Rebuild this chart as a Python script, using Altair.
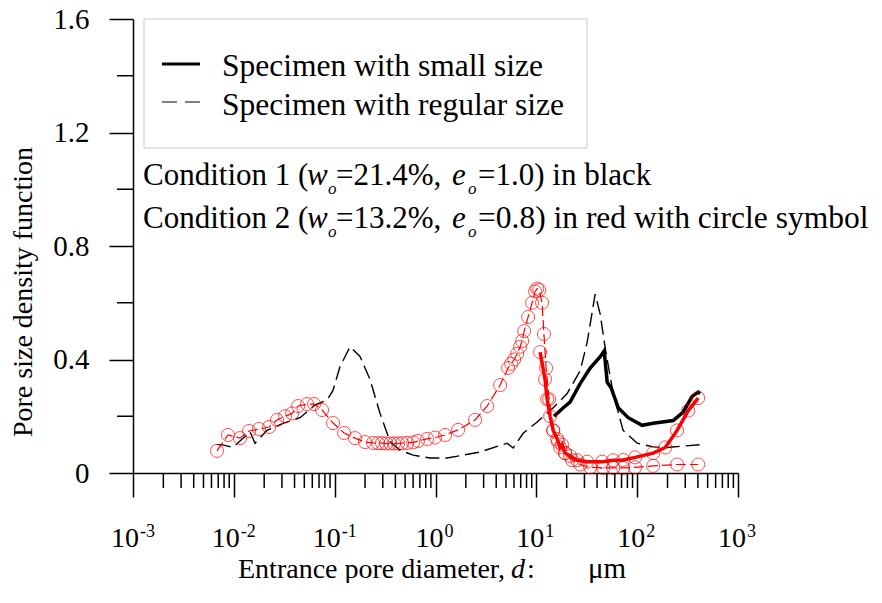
import altair as alt
import pandas as pd

SERIF = "Liberation Serif"

# Condition 1, specimen with regular size (black dashed)
d_reg1 = [0.0068, 0.0076, 0.0098, 0.0145, 0.0162, 0.0213, 0.0308, 0.0454, 0.064, 0.084,
          0.096, 0.113, 0.142, 0.179, 0.224, 0.282, 0.355, 0.446, 0.60, 0.88,
          1.30, 1.88, 2.77, 5.13, 5.89, 7.40, 10.2, 14.7, 20.2, 27.2,
          31.9, 38.3, 43.0, 48.2, 57.8, 72.6, 100, 144, 199, 422]
v_reg1 = [0.10, 0.10, 0.09, 0.145, 0.105, 0.15, 0.175, 0.195, 0.24, 0.257,
          0.29, 0.375, 0.445, 0.41, 0.33, 0.21, 0.11, 0.08, 0.063, 0.053,
          0.053, 0.063, 0.074, 0.105, 0.088, 0.14, 0.18, 0.23, 0.28, 0.36,
          0.46, 0.63, 0.56, 0.44, 0.28, 0.15, 0.105, 0.092, 0.09, 0.10]

# Condition 1, specimen with small size (black solid)
d_small1 = [15.0, 18.5, 21.6, 27.2, 34.2, 43.0, 47.1, 50.4, 55.2, 64.9,
            81.5, 112, 144, 228, 286, 351, 403, 422]
v_small1 = [0.20, 0.23, 0.25, 0.315, 0.37, 0.41, 0.43, 0.32, 0.30, 0.23,
            0.195, 0.168, 0.175, 0.185, 0.215, 0.27, 0.285, 0.28]

# Condition 2, specimen with regular size (red dashed, circles)
d_reg2 = [0.00681, 0.00875, 0.01152, 0.01416, 0.01778, 0.02234, 0.02683, 0.0322, 0.0378, 0.0434,
          0.0532, 0.0625, 0.0750, 0.0964, 0.124, 0.159, 0.200, 0.240, 0.270, 0.295,
          0.324, 0.355, 0.388, 0.426, 0.467, 0.522, 0.600, 0.671, 0.826, 0.991,
          1.245, 1.675, 2.47, 3.25, 4.38, 5.25, 5.62, 6.03, 6.46, 6.91,
          7.23, 7.57, 8.29, 9.08, 9.73, 10.2, 10.7, 11.4, 11.9, 12.5,
          13.4, 14.7, 16.4, 19.3, 22.6, 27.2, 34.2, 46.0, 57.8, 72.6,
          95.5, 144, 249, 403]
v_reg2 = [0.078, 0.134, 0.123, 0.148, 0.155, 0.162, 0.187, 0.20, 0.21, 0.236,
          0.243, 0.243, 0.222, 0.176, 0.141, 0.123, 0.109, 0.106, 0.105, 0.105,
          0.104, 0.104, 0.104, 0.104, 0.105, 0.106, 0.108, 0.113, 0.12, 0.125,
          0.134, 0.152, 0.187, 0.236, 0.31, 0.37, 0.385, 0.40, 0.42, 0.445,
          0.465, 0.50, 0.55, 0.60, 0.64, 0.65, 0.645, 0.60, 0.49, 0.37,
          0.26, 0.15, 0.11, 0.07, 0.045, 0.03, 0.02, 0.018, 0.018, 0.018,
          0.02, 0.025, 0.03, 0.03]

# Condition 2, specimen with small size (red solid, circles)
d_small2 = [10.9, 12.2, 12.8, 13.7, 14.7, 16.1, 17.2, 18.0, 19.3, 21.6,
            25.4, 31.9, 45.0, 57.8, 72.6, 95.5, 144, 190, 249, 321, 403]
v_small2 = [0.426, 0.33, 0.26, 0.20, 0.15, 0.12, 0.09, 0.10, 0.07, 0.06,
            0.045, 0.04, 0.04, 0.045, 0.046, 0.055, 0.07, 0.09, 0.15, 0.22, 0.264]

decades = [0.001, 0.01, 0.1, 1, 10, 100, 1000]
exponents = ["-3", "-2", "-1", "0", "1", "2", "3"]
minor_x = [m * 10.0 ** k for k in range(-3, 3) for m in range(2, 10)]
major_y = [0, 0.4, 0.8, 1.2, 1.6]
minor_y = [0.2, 0.6, 1.0, 1.4]

W, H = 605, 454

x_scale = alt.Scale(type="log", domain=[0.001, 1000], nice=False)
y_scale = alt.Scale(domain=[0, 1.6], nice=False, zero=True)
x_axis = alt.Axis(values=decades, tickSize=24, labels=False, title=None, grid=False,
                  domainColor="black", tickColor="black", domainWidth=1.5, tickWidth=1.5)
y_axis = alt.Axis(values=major_y, tickSize=24, labelFontSize=29, labelFont=SERIF,
                  labelColor="black", labelPadding=20, title=None, grid=False,
                  domainColor="black", tickColor="black", domainWidth=1.5, tickWidth=1.5,
                  labelExpr="datum.value == 0 ? '0' : format(datum.value, '.1f')")
X = alt.X("d:Q", scale=x_scale, axis=x_axis)
Y = alt.Y("v:Q", scale=y_scale, axis=y_axis)


def frame(d, v):
    return pd.DataFrame({"d": d, "v": v})


reg1 = alt.Chart(frame(d_reg1, v_reg1)).mark_line(
    color="black", strokeWidth=1.4, strokeDash=[14, 6]).encode(x=X, y=Y)
small1 = alt.Chart(frame(d_small1, v_small1)).mark_line(
    color="black", strokeWidth=3.5).encode(x=X, y=Y)
reg2_line = alt.Chart(frame(d_reg2, v_reg2)).mark_line(
    color="#ff0000", strokeWidth=1.2, strokeDash=[10, 4]).encode(x=X, y=Y)
reg2_pts = alt.Chart(frame(d_reg2, v_reg2)).mark_point(
    shape="circle", color="#ff0000", filled=False, size=170, strokeWidth=1).encode(x=X, y=Y)
small2_line = alt.Chart(frame(d_small2, v_small2)).mark_line(
    color="#ff0000", strokeWidth=3.5).encode(x=X, y=Y)
small2_pts = alt.Chart(frame(d_small2, v_small2)).mark_point(
    shape="circle", color="#ff0000", filled=False, size=170, strokeWidth=1).encode(x=X, y=Y)

minor_x_rules = alt.Chart(pd.DataFrame({"d": minor_x})).mark_rule(
    color="black", strokeWidth=1.5).encode(x=X, y=alt.value(H), y2=alt.value(H + 15))
minor_y_rules = alt.Chart(pd.DataFrame({"v": minor_y})).mark_rule(
    color="black", strokeWidth=1.5).encode(y=Y, x=alt.value(-16), x2=alt.value(0))

ticks = pd.DataFrame({"d": decades, "e": exponents})
ticks["neg"] = ticks["e"].str.startswith("-")


def tick_text(neg, sup):
    base = alt.Chart(ticks).transform_filter(
        alt.datum.neg if neg else ~alt.datum.neg)
    if not sup:
        return base.mark_text(text="10", font=SERIF, fontSize=28, align="right",
                              baseline="alphabetic", dx=6 if neg else 8,
                              color="black").encode(x=X, y=alt.value(528))
    return base.mark_text(font=SERIF, fontSize=18, align="left",
                          baseline="alphabetic", dx=7 if neg else 9,
                          color="black").encode(x=X, y=alt.value(518), text="e:N")


one = pd.DataFrame({"k": [0]})


def label(txt, x, y, size=31, style="normal", align="left", angle=0):
    return alt.Chart(one).mark_text(
        text=txt, font=SERIF, fontSize=size, fontStyle=style, align=align,
        baseline="alphabetic", angle=angle, color="black").encode(
        x=alt.value(x), y=alt.value(y))


legend_box = alt.Chart(one).mark_rect(
    fillOpacity=0, stroke="#c8c8c8", strokeWidth=1).encode(
    x=alt.value(11), x2=alt.value(454), y=alt.value(0), y2=alt.value(129))
legend_solid = alt.Chart(one).mark_rule(color="black", strokeWidth=3).encode(
    x=alt.value(29), x2=alt.value(67), y=alt.value(45))
legend_dash = alt.Chart(one).mark_rule(color="black", strokeWidth=1.2, strokeDash=[15, 8]).encode(
    x=alt.value(29), x2=alt.value(67), y=alt.value(83))

texts = [
    label("Specimen with small size", 89, 57, size=31.5),
    label("Specimen with regular size", 89, 96, size=31.5),
    label("Condition 1 (", 10, 166),
    label("w", 174, 166, style="italic"),
    label("o", 195, 175, size=17, style="italic"),
    label("=21.4%, ", 203, 166),
    label("e", 319, 166, style="italic"),
    label("o", 335, 175, size=17, style="italic"),
    label("=1.0) in black", 345, 166),
    label("Condition 2 (", 10, 209),
    label("w", 174, 209, style="italic"),
    label("o", 195, 218, size=17, style="italic"),
    label("=13.2%, ", 203, 209),
    label("e", 319, 209, style="italic"),
    label("o", 335, 218, size=17, style="italic"),
    label("=0.8) in red with circle symbol", 345, 209, size=31.5),
    label("Entrance pore diameter, ", 105, 559, size=28),
    label("d", 378, 559, size=28, style="italic"),
    label(":", 394, 559, size=28),
    label("\u03bcm", 455, 559, size=29),
    label("Pore size density function", -101, 273, size=28, align="center", angle=270),
]

chart = alt.layer(
    reg1, small1, reg2_line, small2_line, reg2_pts, small2_pts,
    minor_x_rules, minor_y_rules,
    tick_text(True, False), tick_text(True, True),
    tick_text(False, False), tick_text(False, True),
    legend_box, legend_solid, legend_dash, *texts,
).properties(
    width=W, height=H,
    autosize=alt.AutoSizeParams(type="none"),
    padding={"left": 125, "top": 11, "right": 130, "bottom": 110},
).configure_view(stroke=None)

chart.save("out.html", embed_options={"renderer": "svg", "actions": False})
